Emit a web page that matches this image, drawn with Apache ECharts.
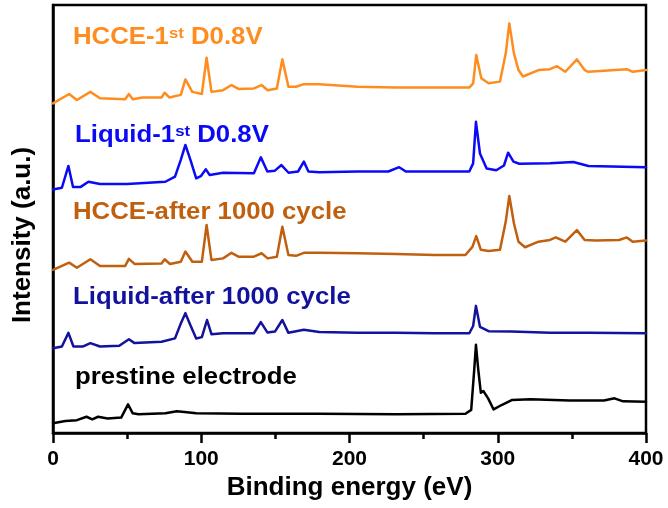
<!DOCTYPE html>
<html>
<head>
<meta charset="utf-8">
<script src="https://cdn.jsdelivr.net/npm/echarts@6/dist/echarts.min.js"></script>
<style>
  html, body { margin: 0; padding: 0; background: #fff; }
  #chart { width: 668px; height: 508px; }
</style>
</head>
<body>
<div id="chart"></div>
<script>
// Survey spectra, [binding energy (eV), stacked intensity (a.u.)]
const hcce1st = [[0,77.0],[10.9,79.2],[16.1,77.8],[25.2,79.7],[31.7,78.2],[48.6,78.0],[51.2,79.2],[53.8,78.0],[60.2,78.4],[73.2,78.4],[75.3,79.5],[78.4,78.4],[86.2,79.0],[89.3,82.6],[94,79.7],[100.4,79.2],[103.6,87.7],[106.9,79.7],[114.7,80.1],[120.4,81.3],[125.1,80.4],[135.5,80.5],[140.7,81.3],[144.8,80.1],[151,80.5],[154.7,87.3],[158.8,80.9],[163.9,80.9],[169.2,81.5],[179.6,81.5],[205.5,80.9],[231.5,80.7],[257.4,80.7],[280.8,80.7],[283.4,81.7],[285.5,88.3],[288.9,82.9],[293.8,81.7],[301.5,82.1],[305.4,88.7],[307.8,95.7],[310.9,88.7],[314,84.8],[317,83.3],[327.5,84.8],[335.2,85.0],[339.9,85.7],[345.6,84.4],[353.4,87.3],[358.6,84.8],[361.2,84.4],[374.2,84.7],[387.1,85.0],[391,84.4],[400,84.8]];

const liquid1st = [[0,56.9],[6,57.3],[10.4,62.4],[13.5,57.5],[18.7,57.5],[23.9,58.7],[31.7,58.2],[49.9,58.2],[75.8,58.7],[82.3,59.9],[86.2,63.8],[89.3,67.3],[92.7,63.8],[96.6,59.5],[99.7,60.0],[103.1,61.6],[105.7,60.3],[114.7,60.8],[135.5,60.7],[140.2,64.4],[144.6,61.1],[149.7,61.3],[154.1,62.6],[158.9,60.8],[165.3,61.1],[169.2,63.4],[172.3,61.1],[179.6,60.9],[205.5,61.1],[226.2,61.1],[233.5,62.1],[238,61.1],[257.4,61.1],[280.8,61.1],[283.4,63.0],[285.3,72.7],[288.0,65.3],[292.5,61.8],[299,61.4],[304.2,62.5],[307.0,65.5],[310.6,63.4],[314.5,62.9],[335.2,63.0],[351,63.3],[361.2,62.4],[400,62.1]];

const hcce1000 = [[0,38.1],[10.9,39.8],[16.1,38.6],[25.2,40.6],[31.7,39.0],[48.6,39.0],[51.2,40.7],[55,39.5],[73.2,39.6],[75.3,40.6],[78.9,39.5],[86.2,40.0],[89.3,42.4],[94,40.0],[100.4,40.0],[103.6,48.6],[106.9,40.4],[114.7,40.8],[120.4,42.1],[125.1,41.2],[135.5,41.2],[140.7,42.0],[144.8,40.8],[151,41.2],[154.7,48.2],[158.8,41.6],[163.9,41.4],[169.2,42.1],[179.6,42.1],[205.5,42.0],[231.5,41.8],[257.4,41.6],[278.2,41.6],[282.9,43.5],[285.5,46.0],[288.6,42.8],[293.8,42.5],[301.5,42.8],[305.4,49.4],[307.8,55.4],[310.9,49.0],[314,44.7],[318.4,43.4],[327.5,44.7],[335.2,45.1],[339.1,45.7],[345.6,44.7],[353.4,47.4],[358.6,45.1],[366.3,45.0],[381.9,45.1],[387.1,45.7],[391,44.7],[400,45.0]];

const liquid1000 = [[0,19.8],[6,20.2],[10.4,23.4],[13.8,20.2],[20,20.2],[25.2,21.0],[31.7,20.2],[44.7,20.4],[51.2,21.9],[55,21.0],[73.2,21.3],[82.3,22.1],[86.2,25.6],[89.3,28.0],[92.7,25.2],[96.6,22.1],[100.4,22.4],[103.9,26.4],[106.9,23.1],[114.7,23.3],[135.5,23.3],[140.2,25.9],[144.6,23.5],[149.7,23.7],[154.7,26.4],[158.8,23.4],[169.2,24.1],[179.6,23.6],[205.5,23.4],[231.5,23.4],[257.4,23.3],[280.8,23.3],[283.4,25.0],[285.3,29.7],[288.0,24.8],[293.8,23.8],[309.4,23.7],[335.2,23.4],[361.2,23.4],[400,23.3]];

const pristine = [[0,2.3],[8.3,2.8],[16.1,3.0],[22.6,3.8],[26.5,3.2],[30.4,3.8],[36.9,3.4],[46,3.6],[50.6,6.7],[53.8,4.6],[57.7,4.4],[75.8,4.6],[83.5,5.1],[88.7,4.9],[96.6,4.6],[127.7,4.5],[179.6,4.5],[231.5,4.4],[278.2,4.5],[282.1,5.4],[284.2,15.1],[285.3,20.6],[286.8,15.0],[288.6,9.4],[290.3,9.8],[291.6,10.0],[293.5,8.1],[297.2,5.5],[302.9,6.6],[309.4,7.7],[322.3,7.9],[348.3,7.6],[371.6,7.6],[378.8,8.1],[384.5,7.4],[400,7.3]];

const seriesNames = ['HCCE-1st D0.8V', 'Liquid-1st D0.8V', 'HCCE-after 1000 cycle', 'Liquid-after 1000 cycle', 'prestine electrode'];
const seriesData = [hcce1st, liquid1st, hcce1000, liquid1000, pristine];
const seriesColors = ['#FF8C1F', '#0A0AF5', '#C0600F', '#12129C', '#000000'];
const xTicks = [0, 100, 200, 300, 400];

const FONT = '"Liberation Sans", Arial, Helvetica, sans-serif';

const chart = echarts.init(document.getElementById('chart'), null, { renderer: 'canvas' });

// label text with superscript markup, one per curve
const labelTexts = ['HCCE-1{sup|st} D0.8V', 'Liquid-1{sup|st} D0.8V', 'HCCE-after 1000 cycle', 'Liquid-after 1000 cycle', 'prestine electrode'];
const labelPos = [[73, 38], [75, 136], [73, 213], [73, 298], [75, 378]];

const graphics = labelTexts.map((t, i) => ({
  type: 'text',
  x: labelPos[i][0],
  y: labelPos[i][1],
  scaleX: 1.12,
  z: 10,
  style: {
    text: t,
    fill: seriesColors[i],
    font: 'bold 23px ' + FONT,
    verticalAlign: 'middle',
    lineHeight: 24,
    rich: {
      sup: { fontSize: 15, fontWeight: 'bold', fontFamily: FONT, fill: seriesColors[i], verticalAlign: 'top', lineHeight: 24, padding: [0, 0, 10, 0] }
    }
  }
}));

chart.setOption({
  animation: false,
  backgroundColor: '#ffffff',
  grid: {
    left: 53, right: 22, top: 5, bottom: 75,
    show: true, borderColor: '#000', borderWidth: 2.5, backgroundColor: 'transparent'
  },
  xAxis: {
    type: 'value',
    min: xTicks[0], max: xTicks[xTicks.length - 1], interval: 100,
    name: 'Binding energy (eV)',
    nameLocation: 'middle',
    nameGap: 40,
    nameTextStyle: { fontSize: 26, fontWeight: 'bold', color: '#000', fontFamily: FONT },
    axisLine: { show: true, onZero: false, lineStyle: { color: '#000', width: 2.5 } },
    axisTick: { show: true, inside: false, length: 10, lineStyle: { color: '#000', width: 2.5 } },
    minorTick: { show: true, splitNumber: 2, length: 6, lineStyle: { color: '#000', width: 2.5 } },
    axisLabel: { fontSize: 21, fontWeight: 'bold', color: '#000', fontFamily: FONT, margin: 16 },
    splitLine: { show: false }
  },
  yAxis: {
    type: 'value',
    min: 0, max: 100,
    name: 'Intensity (a.u.)',
    nameLocation: 'middle',
    nameGap: 17,
    nameTextStyle: { fontSize: 26, fontWeight: 'bold', color: '#000', fontFamily: FONT, padding: [0, 32, 0, 0] },
    axisLine: { show: true, onZero: false, lineStyle: { color: '#000', width: 2.5 } },
    axisTick: { show: false },
    axisLabel: { show: false },
    splitLine: { show: false }
  },
  series: seriesData.map((d, i) => ({
    name: seriesNames[i],
    type: 'line',
    data: d,
    symbol: 'none',
    showSymbol: false,
    smooth: false,
    lineStyle: { color: seriesColors[i], width: 2.5, join: 'round', cap: 'round' },
    itemStyle: { color: seriesColors[i] },
    z: 2
  })),
  graphic: graphics
});
</script>
</body>
</html>
